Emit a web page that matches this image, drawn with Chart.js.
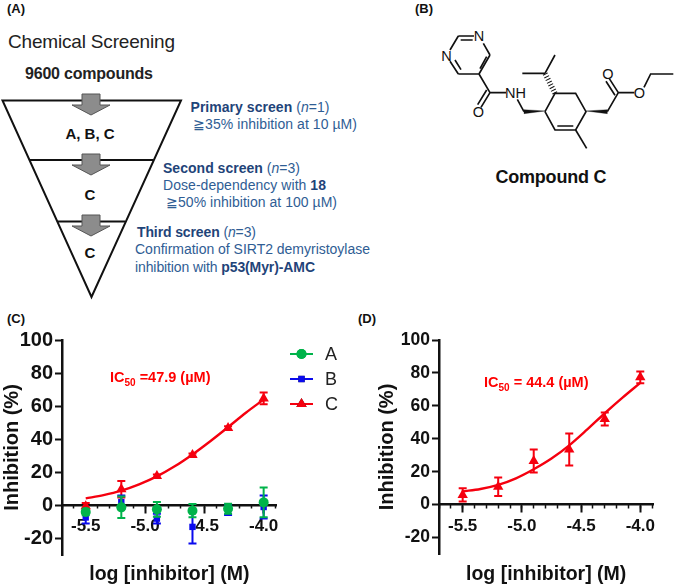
<!DOCTYPE html>
<html>
<head>
<meta charset="utf-8">
<title>Compound C screening</title>
<script src="https://cdn.jsdelivr.net/npm/chart.js@4/dist/chart.umd.js"></script>
<style>
  html, body { margin: 0; padding: 0; background: #fff; }
  #page { position: relative; width: 674px; height: 585px; overflow: hidden; font-family: "Liberation Sans", Arial, sans-serif; }
  #page svg { position: absolute; left: 0; top: 0; }
  #page canvas { position: absolute; }
  #chartC { left: 0; top: 310px; }
  #chartD { left: 375px; top: 310px; }
  .ic50 { position: absolute; color: #f00; font-weight: bold; white-space: nowrap; font-size: 14.5px; line-height: 18px; }
  .ic50 sub { font-size: 10px; line-height: 0; }
  .blue { fill: #2f5d94; font-size: 14px; }
  .blue .b { fill: #1f4479; font-weight: bold; }
  .lab { font-weight: bold; font-size: 13px; fill: #111; }
  .atom { font-size: 14.5px; fill: #111; text-anchor: middle; dominant-baseline: central; }
</style>
</head>
<body>
<div id="page">
  <svg width="674" height="585" xmlns="http://www.w3.org/2000/svg">
    <text class="lab" x="7" y="13">(A)</text>
    <text class="lab" x="415" y="13">(B)</text>
    <text class="lab" x="7" y="323">(C)</text>
    <text class="lab" x="358" y="323">(D)</text>

    <text x="8" y="48" font-size="19" fill="#222" textLength="167">Chemical Screening</text>
    <text x="25" y="79" font-size="16" font-weight="bold" fill="#222" textLength="128">9600 compounds</text>

    <g fill="none" stroke="#111" stroke-width="2">
      <path d="M2.5 100.5 H181 L91.5 297 Z"/>
      <path d="M30 160 H153"/>
      <path d="M58 221.5 H125"/>
    </g>
    <g fill="#8c8c8c" stroke="#555" stroke-width="1">
      <path id="arrow" d="M82 94 H100 V105 H110 L91 115 L72 105 H82 Z"/>
      <path d="M82 154 H100 V165 H110 L91 175 L72 165 H82 Z"/>
      <path d="M82 215 H100 V226 H110 L91 236 L72 226 H82 Z"/>
    </g>
    <g font-size="15" font-weight="bold" fill="#111" text-anchor="middle">
      <text x="90" y="139">A, B, C</text>
      <text x="90" y="200">C</text>
      <text x="90" y="258">C</text>
    </g>

    <g class="blue">
      <text x="190.5" y="112" textLength="139"><tspan class="b">Primary screen</tspan> (<tspan font-style="italic">n</tspan>=1)</text>
      <text x="193" y="129" textLength="164">≧35% inhibition at 10 µM)</text>
      <text x="163" y="173" textLength="137"><tspan class="b">Second screen</tspan> (<tspan font-style="italic">n</tspan>=3)</text>
      <text x="163" y="190" textLength="163">Dose-dependency with <tspan class="b">18</tspan></text>
      <text x="166" y="207" textLength="171">≧50% inhibition at 100 µM)</text>
      <text x="137" y="237" textLength="119"><tspan class="b">Third screen</tspan> (<tspan font-style="italic">n</tspan>=3)</text>
      <text x="135" y="254" textLength="235">Confirmation of SIRT2 demyristoylase</text>
      <text x="135" y="272" textLength="180">inhibition with <tspan class="b">p53(Myr)-AMC</tspan></text>
    </g>

    <g transform="translate(400 0) scale(0.3333)" fill="none" stroke="#111" stroke-width="5">
      <path d="M175 108 H222 M182 120 H218 M175 108 L150 150 M150 184 L175 222 M165 180 L183 209 M175 222 H237"/>
      <path d="M237 222 L270 165 M240 206 L260 170 M270 165 L250 130"/>
      <path d="M237 222 L270 278 M270 278 L243 322 M260 270 L233 314 M270 278 H318"/>
      <path d="M352 298 L372 335"/>
      <path d="M435 335 L465 280 H527 L558 335 L527 390 H465 L435 335 M520 378 H472"/>
      <path d="M435 220 L465 165 M435 220 H367"/>
      <path d="M527 390 L560 445"/>
      <path d="M622 335 L655 278 M655 278 L628 236 M645 286 L618 244 M655 278 H703 M732 262 L752 222 H820"/>
      <path d="M465 280 L435 220" stroke-width="16" stroke-dasharray="3 6"/>
      <path d="M435 333 L372 329 V341 Z" fill="#111" stroke-width="1"/>
      <path d="M558 333 L622 329 V341 Z" fill="#111" stroke-width="1"/>
    </g>
    <text class="atom" x="479" y="36">N</text>
    <text class="atom" x="446.5" y="55.5">N</text>
    <text class="atom" x="515.5" y="92.5">NH</text>
    <text class="atom" x="478.5" y="111.5">O</text>
    <text class="atom" x="608" y="74">O</text>
    <text class="atom" x="639.5" y="92.5">O</text>
    <text x="495.5" y="183" font-size="18" font-weight="bold" fill="#111" textLength="111">Compound C</text>
  </svg>

  <canvas id="chartC" width="350" height="275"></canvas>
  <canvas id="chartD" width="299" height="275"></canvas>

  <div class="ic50" style="left:110px;top:368px">IC<sub>50</sub> =47.9 (µM)</div>
  <div class="ic50" style="left:484px;top:373px">IC<sub>50</sub> = 44.4 (µM)</div>
</div>

<script>
const doses = [-5.5, -5.2, -4.9, -4.6, -4.3, -4.0]
const curveDoses = [-5.5, -5.35, -5.2, -5.05, -4.9, -4.75, -4.6, -4.45, -4.3, -4.15, -4.0]

// panel C
const valuesA = [-4, -1.2, -2.4, -3.2, -2, 1.8]
const errorsA = [2, 6.5, 4.5, 4, 3, 9]
const valuesB = [-7.3, 2, -8, -13, -2.8, -1]
const errorsB = [3.7, 4, 3, 10, 3, 7]
const valuesC = [-0.5, 9.7, 17.7, 30.4, 46.8, 64.7]
const errorsC = [2, 5, 1, 1, 1, 3.5]
const fitC = [4.2, 6.2, 8.9, 12.7, 17.5, 23.6, 30.8, 38.8, 47.3, 56, 64]

// panel D
const valuesD = [5.9, 10.8, 26.5, 33.5, 52, 77.3]
const errorsD = [4, 5.6, 7, 9.7, 4, 3.5]
const fitD = [8, 9.5, 12, 16, 21.5, 28, 36, 45.5, 55.5, 65, 74]

const yTicks = [-20, 0, 20, 40, 60, 80, 100]
const seriesNames = ['A', 'B', 'C']

const GREEN = '#00b34a'
const BLUE = '#0a0aee'
const RED = '#f5000f'

const toPoints = (xs, ys) => xs.map((x, i) => ({ x, y: ys[i] }))

// error bars, drawn right under the markers of their own dataset
const errorBars = {
  id: 'errorBars',
  beforeDatasetDraw (chart, args) {
    const ds = chart.data.datasets[args.index]
    if (!ds.errors) return
    const { ctx, scales } = chart
    ctx.save()
    ctx.strokeStyle = ds.borderColor
    ctx.lineWidth = 2
    args.meta.data.forEach((pt, i) => {
      const val = ds.data[i].y
      const top = scales.y.getPixelForValue(val + ds.errors[i])
      const bot = scales.y.getPixelForValue(val - ds.errors[i])
      ctx.beginPath()
      ctx.moveTo(pt.x, top)
      ctx.lineTo(pt.x, bot)
      ctx.moveTo(pt.x - 4, top)
      ctx.lineTo(pt.x + 4, top)
      ctx.moveTo(pt.x - 4, bot)
      ctx.lineTo(pt.x + 4, bot)
      ctx.stroke()
    })
    ctx.restore()
  }
}

// GraphPad style legend, line with the marker on it
const lineLegend = {
  id: 'lineLegend',
  afterDraw (chart, args, opts) {
    if (!opts.rows) return
    const { ctx } = chart
    ctx.save()
    opts.rows.forEach((row, i) => {
      const ds = chart.data.datasets[i]
      const y = row - chart.canvas.offsetTop
      ctx.strokeStyle = ds.borderColor
      ctx.lineWidth = 2
      ctx.beginPath()
      ctx.moveTo(opts.x, y)
      ctx.lineTo(opts.x + 23, y)
      ctx.stroke()
      Chart.helpers.drawPoint(ctx, {
        pointStyle: ds.pointStyle,
        rotation: 0,
        radius: ds.pointRadius,
        borderWidth: 0
      }, opts.x + 11.5, y)
      ctx.fillStyle = ds.borderColor
      ctx.fill()
      ctx.fillStyle = '#222'
      ctx.font = '18px "Liberation Sans"'
      ctx.textBaseline = 'middle'
      ctx.fillText(ds.label, opts.x + 35, y + 1)
    })
    ctx.restore()
  }
}

const markers = (label, color, pointStyle, pointRadius, values, errors) => ({
  label,
  data: toPoints(doses, values),
  errors,
  showLine: false,
  borderColor: color,
  backgroundColor: color,
  pointStyle,
  pointRadius,
  pointBorderWidth: 0,
  clip: false
})

const fitLine = (values) => ({
  data: toPoints(curveDoses, values),
  borderColor: RED,
  borderWidth: 2.4,
  pointRadius: 0,
  cubicInterpolationMode: 'monotone'
})

const buildOptions = (p) => ({
  responsive: false,
  animation: false,
  layout: { padding: p.padding },
  plugins: { legend: { display: false }, tooltip: { enabled: false }, lineLegend: p.legend || {} },
  scales: {
    x: {
      type: 'linear',
      position: { y: 0 },
      min: -5.7,
      max: -3.89,
      border: { color: '#111', width: 2.5 },
      grid: { drawOnChartArea: false, tickColor: '#111', tickWidth: 2, tickLength: 7 },
      ticks: {
        stepSize: 0.5,
        includeBounds: false,
        padding: 4,
        color: '#111',
        maxRotation: 0,
        font: { family: 'Liberation Sans', size: 17, weight: 'bold' },
        callback: (v) => v.toFixed(1)
      },
      title: {
        display: true,
        text: 'log [inhibitor] (M)',
        color: '#111',
        padding: { top: p.xTitleGap, bottom: 0 },
        font: { family: 'Liberation Sans', size: 19.5, weight: 'bold' }
      }
    },
    xMinor: {
      type: 'linear',
      axis: 'x',
      position: { y: 0 },
      min: -5.7,
      max: -3.89,
      border: { display: false },
      grid: { drawOnChartArea: false, tickColor: '#111', tickWidth: 1.5, tickLength: 3.5 },
      ticks: { stepSize: 0.1, includeBounds: false, autoSkip: false, display: false }
    },
    y: {
      min: -30,
      max: 100,
      afterBuildTicks: (s) => { s.ticks = yTicks.map((value) => ({ value })) },
      afterFit: (s) => { s.width = p.yWidth },
      border: { color: '#111', width: 2.5 },
      grid: { drawOnChartArea: false, tickColor: '#111', tickWidth: 2, tickLength: 7 },
      ticks: {
        padding: 2,
        color: '#111',
        font: { family: 'Liberation Sans', size: p.yTickSize, weight: 'bold' }
      },
      title: {
        display: true,
        text: 'Inhibition (%)',
        color: '#111',
        padding: 0,
        font: { family: 'Liberation Sans', size: 20, weight: 'bold' }
      }
    }
  }
})

new Chart(document.getElementById('chartC'), {
  type: 'line',
  data: {
    datasets: [
      markers(seriesNames[0], GREEN, 'circle', 5, valuesA, errorsA),
      markers(seriesNames[1], BLUE, 'rect', 4.5, valuesB, errorsB),
      markers(seriesNames[2], RED, 'triangle', 6, valuesC, errorsC),
      fitLine(fitC)
    ]
  },
  options: buildOptions({
    padding: { top: 30, right: 73.3, bottom: 30, left: 0 },
    yWidth: 62,
    yTickSize: 20,
    xTitleGap: 22,
    legend: { x: 290, rows: [354, 379, 404] }
  }),
  plugins: [errorBars, lineLegend]
})

new Chart(document.getElementById('chartD'), {
  type: 'line',
  data: {
    datasets: [
      markers(seriesNames[2], RED, 'triangle', 6, valuesD, errorsD),
      fitLine(fitD)
    ]
  },
  options: buildOptions({
    padding: { top: 30, right: 20.7, bottom: 31, left: 0 },
    yWidth: 64,
    yTickSize: 17.5,
    xTitleGap: 23
  }),
  plugins: [errorBars, lineLegend]
})
</script>
</body>
</html>
